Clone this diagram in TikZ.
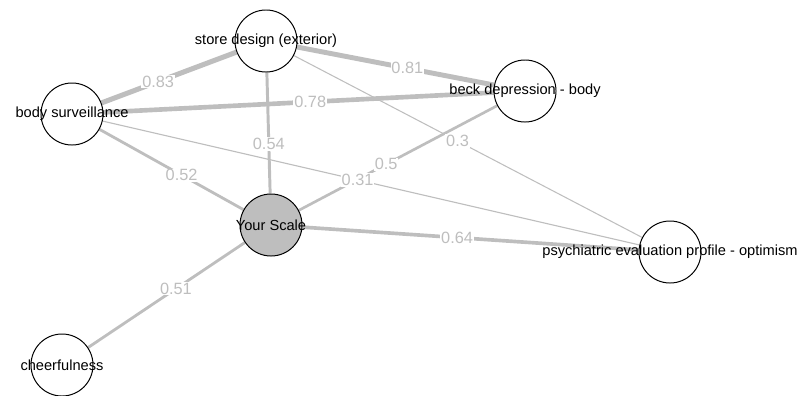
\documentclass[tikz,border=0pt]{standalone}
\usepackage{fontspec}
\setmainfont{Liberation Sans}
\usetikzlibrary{backgrounds}

\definecolor{edgegray}{RGB}{190,190,190}

\tikzset{
  vertex/.style={circle, draw=black, line width=0.7pt, fill=white, minimum size=1.55cm, inner sep=0pt},
  focus/.style={vertex, fill=edgegray},
  vtext/.style={font=\fontsize{10.4}{12}\selectfont, inner sep=0pt},
  link/.style={draw=edgegray},
  wlabel/.style={fill=white, inner sep=0.6pt, text=edgegray, font=\fontsize{11.6}{13}\selectfont},
}

\begin{document}
\begin{tikzpicture}[x=0.025cm, y=-0.025cm]

% Page frame (pixel units, y pointing down)
\useasboundingbox (0,0) rectangle (800,395);

% Define the vertices
\node[vertex, label={[vtext]center:store design (exterior)}] (store) at (266,41) {};
\node[vertex, label={[vtext]center:body surveillance}] (body) at (72,114) {};
\node[vertex, label={[vtext]center:beck depression - body}] (beck) at (525,91) {};
\node[focus, label={[vtext]center:Your Scale}] (scale) at (271,225) {};
\node[vertex, label={[vtext]center:psychiatric evaluation profile - optimism}] (psych) at (670,252) {};
\node[vertex, label={[vtext]center:cheerfulness}] (cheer) at (62,365) {};

\begin{scope}[on background layer]
% Draw the weighted links behind the vertices
\draw[link, line width=0.75pt] (store) -- (psych);
\draw[link, line width=0.8pt] (body) -- (psych);
\draw[link, line width=1.9pt] (scale) -- (beck);
\draw[link, line width=2pt] (scale) -- (cheer);
\draw[link, line width=2pt] (body) -- (scale);
\draw[link, line width=2.1pt] (store) -- (scale);
\draw[link, line width=2.6pt] (scale) -- (psych);
\draw[link, line width=3.3pt] (body) -- (beck);
\draw[link, line width=3.5pt] (store) -- (beck);
\draw[link, line width=3.6pt] (body) -- (store);

% Weights on top of all links
\path (store) -- node[wlabel, pos=0.47] (w30) {0.3} (psych);
\path (body) -- node[wlabel, pos=0.475] (w31) {0.31} (psych);
\path (scale) -- node[wlabel, pos=0.44] (w50) {0.5} (beck);
\path (scale) -- node[wlabel, pos=0.44] (w51) {0.51} (cheer);
\path (body) -- node[wlabel, pos=0.57] (w52) {0.52} (scale);
\path (store) -- node[wlabel, pos=0.59] (w54) {0.54} (scale);
\path (scale) -- node[wlabel, pos=0.46] (w64) {0.64} (psych);
\path (body) -- node[wlabel, pos=0.53] (w78) {0.78} (beck);
\path (store) -- node[wlabel, pos=0.56] (w81) {0.81} (beck);
\path (body) -- node[wlabel, pos=0.42] (w83) {0.83} (store);
\end{scope}

\end{tikzpicture}
\end{document}
